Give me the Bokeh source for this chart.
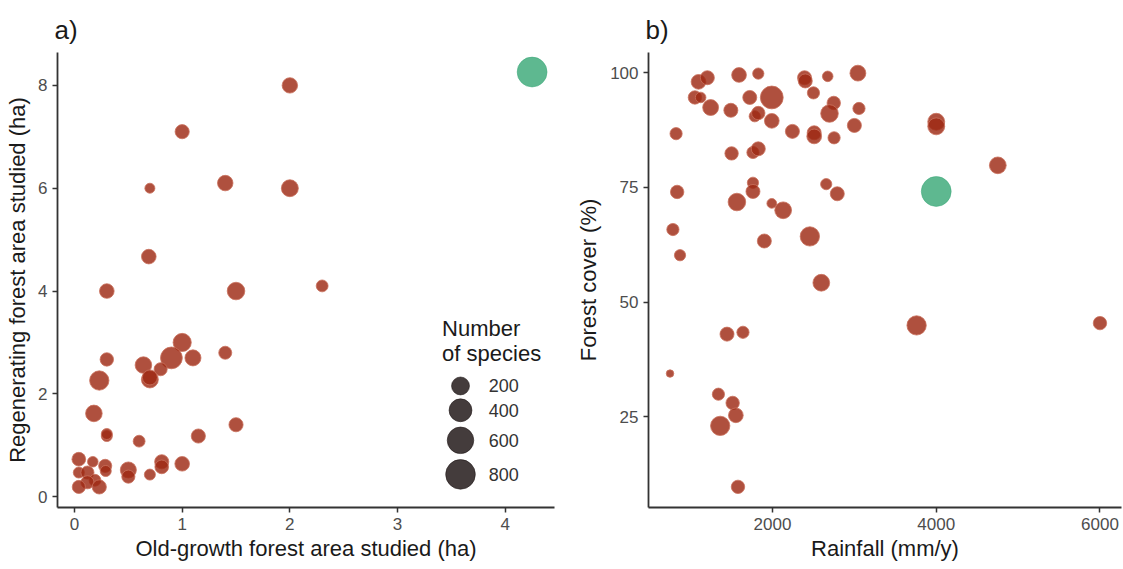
import numpy as np
from bokeh.plotting import figure
from bokeh.layouts import row
from bokeh.models import Range1d, FixedTicker, ColumnDataSource, Label
from bokeh.core.properties import value
from bokeh.embed import file_html
from bokeh.resources import INLINE

# ---------------- Panel a data ----------------
oldgrowth_ha = [2.0, 1.0, 0.7, 1.4, 2.0, 0.69, 0.3, 1.5, 2.3, 1.0, 0.9, 1.1, 1.4, 0.3,
                0.64, 0.8, 0.7, 0.7, 0.23, 0.18, 0.3, 0.3, 0.6, 1.15, 1.5, 0.04, 0.17,
                0.285, 0.29, 0.04, 0.12, 0.19, 0.12, 0.04, 0.23, 0.5, 0.5, 0.70, 0.81,
                0.81, 1.0]
regen_ha = [8.0, 7.1, 6.0, 6.1, 6.0, 4.67, 4.0, 4.0, 4.1, 3.0, 2.7, 2.7, 2.8, 2.67,
            2.56, 2.48, 2.28, 2.32, 2.26, 1.62, 1.18, 1.22, 1.08, 1.18, 1.4, 0.73, 0.68,
            0.6, 0.5, 0.47, 0.47, 0.32, 0.28, 0.19, 0.19, 0.52, 0.39, 0.43, 0.68,
            0.58, 0.64]
species_a = [130, 100, 40, 130, 170, 110, 110, 190, 60, 210, 350, 145, 78, 85,
             160, 80, 170, 120, 250, 160, 50, 50, 60, 100, 100, 90, 45,
             80, 50, 50, 80, 60, 80, 80, 100, 145, 80, 50, 100,
             90, 110]
site_oldgrowth_ha = [4.25]
site_regen_ha = [8.26]
site_species = [820]

# ---------------- Panel b data ----------------
rainfall_mm = [822, 835, 783, 870, 1052, 1096, 1122, 1204, 1244, 1491, 1500, 1591, 1565,
               1722, 1826, 1783, 1826, 1761, 1826, 1761, 1761, 1991, 1991, 1991, 1900,
               2130, 2243, 2391, 2400, 2500, 2509, 2509, 2456, 2674, 2748, 2696, 2752,
               2656, 2791, 2596, 3043, 3056, 3000, 4000, 4000, 4752, 1444, 1639, 3760,
               6000, 748, 1339, 1513, 1552, 1361, 1578]
forest_cover = [86.7, 74.0, 65.8, 60.2, 94.6, 98.0, 94.6, 98.9, 92.4, 91.8, 82.4, 99.5, 71.8,
                94.6, 99.8, 90.5, 91.2, 82.6, 83.4, 76.0, 74.1, 71.5, 94.6, 89.5, 63.3,
                70.0, 87.2, 98.9, 98.2, 95.6, 86.9, 86.1, 64.3, 99.2, 93.4, 91.1, 85.8,
                75.7, 73.6, 54.2, 99.9, 92.2, 88.5, 89.3, 88.3, 79.8, 43.0, 43.4, 44.9,
                45.4, 34.4, 29.9, 28.0, 25.3, 23.0, 9.7]
species_b = [65, 85, 65, 52, 85, 112, 45, 97, 140, 97, 85, 112, 190,
             97, 52, 52, 85, 65, 97, 52, 97, 38, 400, 112, 97,
             165, 97, 97, 97, 65, 97, 112, 250, 45, 85, 190, 65,
             52, 97, 165, 140, 65, 97, 170, 170, 165, 97, 65, 250,
             85, 30, 65, 85, 112, 250, 85]
site_rainfall_mm = [4000]
site_forest_cover = [74.1]

legend_species = [200, 400, 600, 800]
legend_labels = ["200", "400", "600", "800"]

# ---------------- helpers ----------------
FONT = "Liberation Sans"
RED = "#9e2a14"
GREEN = "#3aa878"


def size_px(v):
    v = np.asarray(v, dtype=float)
    return 7.5 + 23.5 * np.sqrt(np.clip(v - 30, 0, None) / 870.0)


def style(p, xlabel, ylabel, xticks, yticks, ylab_standoff):
    p.xgrid.visible = False
    p.ygrid.visible = False
    p.outline_line_color = None
    p.background_fill_color = "white"
    p.border_fill_color = "white"
    for ax in (p.xaxis[0], p.yaxis[0]):
        ax.axis_line_color = "#333333"
        ax.axis_line_width = 1.8
        ax.major_tick_line_color = "#333333"
        ax.major_tick_line_width = 1.5
        ax.major_tick_out = 5
        ax.major_tick_in = 0
        ax.minor_tick_line_color = None
        ax.major_label_text_font = FONT
        ax.major_label_text_font_size = "17px"
        ax.major_label_text_color = "#4d4d4d"
        ax.axis_label_text_font = FONT
        ax.axis_label_text_font_size = "22px"
        ax.axis_label_text_font_style = "normal"
        ax.axis_label_text_color = "#1a1a1a"
        ax.major_label_standoff = 5
    p.xaxis[0].axis_label = xlabel
    p.yaxis[0].axis_label = ylabel
    p.xaxis[0].ticker = FixedTicker(ticks=xticks)
    p.yaxis[0].ticker = FixedTicker(ticks=yticks)
    p.xaxis[0].axis_label_standoff = 3
    p.yaxis[0].axis_label_standoff = ylab_standoff
    p.title.text_font = FONT
    p.title.text_font_size = "26px"
    p.title.text_font_style = "normal"
    p.title.text_color = "#1a1a1a"
    p.title.offset = -3
    p.title.standoff = 16


# ---------------- Panel a ----------------
pa = figure(width=573, height=569, output_backend="svg", toolbar_location=None,
            x_range=Range1d(-0.158, 4.458), y_range=Range1d(-0.21, 8.64),
            min_border_left=57, min_border_right=19, min_border_top=52,
            min_border_bottom=62, title="a)")
style(pa, "Old-growth forest area studied (ha)", "Regenerating forest area studied (ha)",
      [0, 1, 2, 3, 4], [0, 2, 4, 6, 8], 5)

src_a = ColumnDataSource(dict(x=oldgrowth_ha, y=regen_ha, s=size_px(species_a)))
pa.scatter("x", "y", size="s", source=src_a, fill_color=RED, fill_alpha=0.82,
           line_color="#c9715c", line_alpha=0.8, line_width=1)
src_as = ColumnDataSource(dict(x=site_oldgrowth_ha, y=site_regen_ha, s=size_px(site_species)))
pa.scatter("x", "y", size="s", source=src_as, fill_color=GREEN, fill_alpha=0.82,
           line_color=GREEN, line_alpha=0.5, line_width=1)

# size legend (drawn inside panel a)
leg_x = 3.585
leg_y = [2.154, 1.681, 1.097, 0.434]
src_leg = ColumnDataSource(dict(x=[leg_x] * 4, y=leg_y, s=size_px(legend_species),
                                lab=legend_labels, lx=[3.847] * 4))
pa.scatter("x", "y", size="s", source=src_leg, fill_color="#231a1a", fill_alpha=0.85,
           line_color="#231a1a", line_alpha=0.6)
pa.text("lx", "y", text="lab", source=src_leg, text_font=value(FONT),
        text_font_size="18px", text_color="#333333", text_baseline="middle")
for txt, yy in (("Number", 3.27), ("of species", 2.78)):
    pa.add_layout(Label(x=3.414, y=yy, text=txt, text_font=FONT, text_font_size="22px",
                        text_color="#1a1a1a", text_baseline="middle"))

# ---------------- Panel b ----------------
pb = figure(width=550, height=569, output_backend="svg", toolbar_location=None,
            x_range=Range1d(485, 6263), y_range=Range1d(5.2, 104.4),
            min_border_left=70, min_border_right=2, min_border_top=52,
            min_border_bottom=62, title="b)")
style(pb, "Rainfall (mm/y)", "Forest cover (%)", [2000, 4000, 6000], [25, 50, 75, 100], 6)

src_b = ColumnDataSource(dict(x=rainfall_mm, y=forest_cover, s=size_px(species_b)))
pb.scatter("x", "y", size="s", source=src_b, fill_color=RED, fill_alpha=0.82,
           line_color="#c9715c", line_alpha=0.8, line_width=1)
src_bs = ColumnDataSource(dict(x=site_rainfall_mm, y=site_forest_cover, s=size_px(site_species)))
pb.scatter("x", "y", size="s", source=src_bs, fill_color=GREEN, fill_alpha=0.82,
           line_color=GREEN, line_alpha=0.5, line_width=1)

layout = row(pa, pb)
open("out.html", "w").write(file_html(layout, INLINE))
